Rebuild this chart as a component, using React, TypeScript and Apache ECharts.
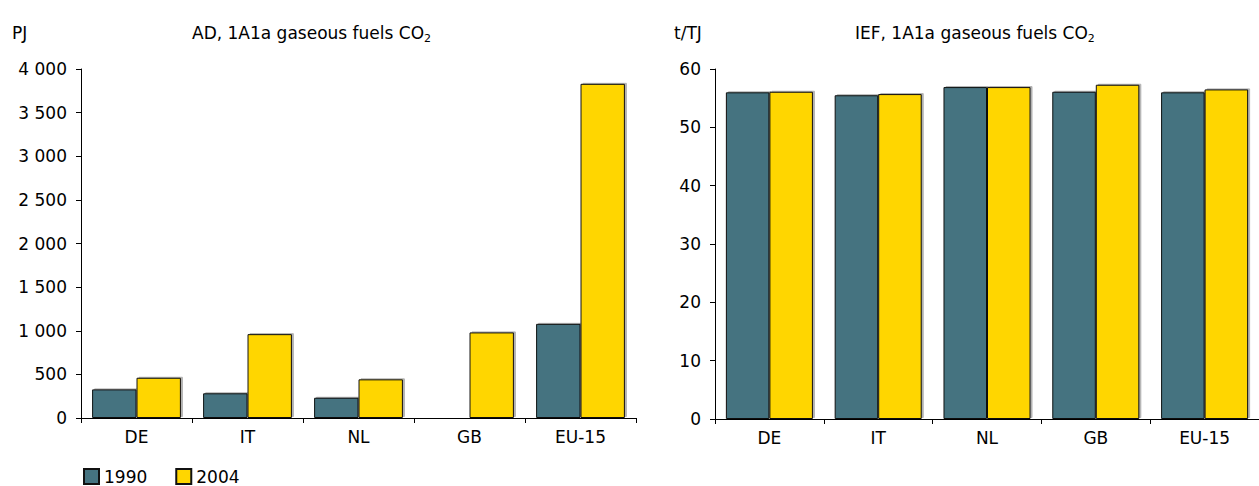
import React, { useEffect, useRef } from "react";
import * as echarts from "echarts";

const categories = ["DE", "IT", "NL", "GB", "EU-15"];
const seriesNames = ["1990", "2004"];
const ad1990 = [328, 283, 232, 0, 1079];
const ad2004 = [461, 961, 443, 981, 3830];
const ief1990 = [56.0, 55.5, 56.9, 56.1, 56.0];
const ief2004 = [56.1, 55.7, 56.9, 57.3, 56.5];

const TEAL = "#457380";
const YELLOW = "#FFD600";
const FONT = "DejaVu Sans, Verdana, sans-serif";
const FS = 17;

const fmt = (v: number) => String(v).replace(/\B(?=(\d{3})+(?!\d))/g, " ");

export default function App() {
  const ref = useRef<HTMLDivElement>(null);
  useEffect(() => {
    if (!ref.current) return;
    const chart = echarts.init(ref.current, undefined, { renderer: "svg" });
    const barStyle = (color: string) => ({
      color,
      borderColor: "#111",
      borderWidth: 1,
      shadowColor: "rgba(0,0,0,0.3)",
      shadowOffsetX: 2,
      shadowOffsetY: -1,
      shadowBlur: 0,
    });
    const xAxisBase = {
      type: "category" as const,
      data: categories,
      axisLine: { lineStyle: { color: "#000", width: 1 } },
      axisTick: { show: true, length: 5, lineStyle: { color: "#000" } },
      axisLabel: { color: "#000", fontSize: FS, fontFamily: FONT, margin: 10 },
    };
    const yAxisBase = {
      type: "value" as const,
      axisLine: { show: true, lineStyle: { color: "#000", width: 1 } },
      axisTick: { show: true, length: 5, lineStyle: { color: "#000" } },
      splitLine: { show: false },
      axisLabel: { color: "#000", fontSize: FS, fontFamily: FONT, margin: 14, formatter: fmt },
    };
    const titleRich = {
      a: { fontSize: FS, fontFamily: FONT, color: "#000" },
      s: { fontSize: 11, fontFamily: FONT, color: "#000", padding: [11, 0, 0, 0] },
    };
    chart.setOption({
      animation: false,
      textStyle: { fontFamily: FONT },
      grid: [
        { left: 81, top: 69, width: 555, height: 349 },
        { left: 715, top: 69, width: 555, height: 350 },
      ],
      xAxis: [
        { ...xAxisBase, gridIndex: 0 },
        { ...xAxisBase, gridIndex: 1 },
      ],
      yAxis: [
        { ...yAxisBase, gridIndex: 0, min: 0, max: 4000, interval: 500 },
        { ...yAxisBase, gridIndex: 1, min: 0, max: 60, interval: 10 },
      ],
      legend: {
        left: 83,
        top: 468,
        padding: 0,
        itemWidth: 15,
        itemHeight: 15,
        itemGap: 28,
        icon: "rect",
        data: seriesNames,
        textStyle: { fontSize: FS, fontFamily: FONT, color: "#000" },
      },
      graphic: [
        { type: "text", left: 12, top: 24, style: { text: "PJ", fontSize: FS, fontFamily: FONT, fill: "#000" } },
        { type: "text", left: 674, top: 24, style: { text: "t/TJ", fontSize: FS, fontFamily: FONT, fill: "#000" } },
        {
          type: "text",
          left: 192,
          top: 24,
          style: { text: "{a|AD, 1A1a gaseous fuels CO}{s|2}", rich: titleRich },
        },
        {
          type: "text",
          left: 855,
          top: 24,
          style: { text: "{a|IEF, 1A1a gaseous fuels CO}{s|2}", rich: titleRich },
        },
      ],
      series: [
        {
          name: seriesNames[0], type: "bar", xAxisIndex: 0, yAxisIndex: 0, data: ad1990,
          barGap: "0%", barCategoryGap: "20%", itemStyle: barStyle(TEAL),
        },
        {
          name: seriesNames[1], type: "bar", xAxisIndex: 0, yAxisIndex: 0, data: ad2004,
          barGap: "0%", barCategoryGap: "20%", itemStyle: barStyle(YELLOW),
        },
        {
          name: seriesNames[0], type: "bar", xAxisIndex: 1, yAxisIndex: 1, data: ief1990,
          barGap: "0%", barCategoryGap: "20%", itemStyle: barStyle(TEAL),
        },
        {
          name: seriesNames[1], type: "bar", xAxisIndex: 1, yAxisIndex: 1, data: ief2004,
          barGap: "0%", barCategoryGap: "20%", itemStyle: barStyle(YELLOW),
        },
      ],
    });
    return () => chart.dispose();
  }, []);
  return (
    <div
      ref={ref}
      style={{ position: "fixed", left: 0, top: 0, width: 1259, height: 486, background: "#fff" }}
    />
  );
}
